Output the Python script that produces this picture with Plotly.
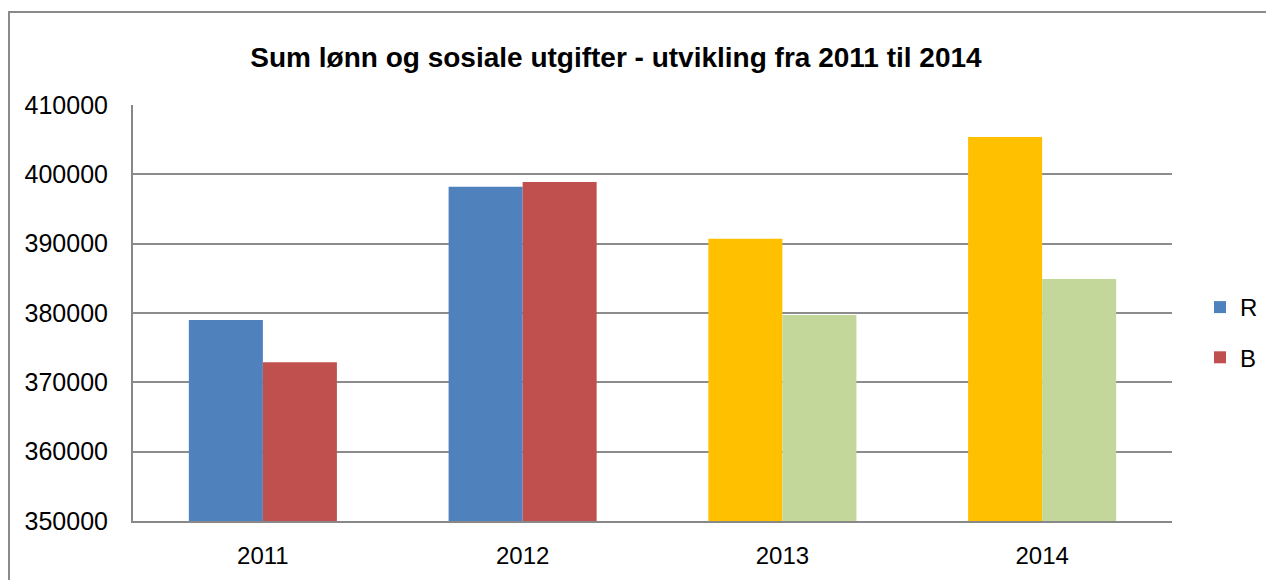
import plotly.graph_objects as go

years = ["2011", "2012", "2013", "2014"]
r_values = [379000, 398200, 390700, 405400]
b_values = [372900, 398900, 379700, 384900]
r_colors = ["#4F81BD", "#4F81BD", "#FFC000", "#FFC000"]
b_colors = ["#C0504D", "#C0504D", "#C4D79B", "#C4D79B"]
y_ticks = [350000, 360000, 370000, 380000, 390000, 400000, 410000]
title_text = "Sum lønn og sosiale utgifter - utvikling fra 2011 til 2014"

W, H = 1266, 580
L, R, T, B = 133, 94, 105, 59
pw, ph = W - L - R, H - T - B

fig = go.Figure()
fig.add_trace(go.Bar(x=years, y=r_values, name="R", legendgroup="r",
                     marker=dict(color=r_colors, line=dict(width=0))))
fig.add_trace(go.Bar(x=years, y=b_values, name="B", legendgroup="b",
                     marker=dict(color=b_colors, line=dict(width=0))))

font = "Liberation Sans, Arial, sans-serif"
fig.update_layout(
    width=W, height=H,
    margin=dict(l=L, r=R, t=T, b=B, autoexpand=False),
    paper_bgcolor="white", plot_bgcolor="white",
    barmode="group", bargap=0.43, bargroupgap=0,
    font=dict(family=font, size=25, color="black"),
    title=dict(text="<b>" + title_text + "</b>", x=616 / W, xanchor="center",
               y=1 - 57 / H, yanchor="middle", font=dict(size=28, family=font)),
    legend=dict(x=(1200 - L) / pw, xanchor="left", y=1 - (285 - T) / ph, yanchor="top",
                font=dict(size=24), tracegroupgap=16, itemwidth=30,
                bgcolor="rgba(0,0,0,0)"),
    xaxis=dict(showline=True, linecolor="#888888", linewidth=2, ticks="",
               tickfont=dict(size=24), ticklabelstandoff=12),
    yaxis=dict(range=[350000, 410000], tickvals=y_ticks, tickformat="d",
               showgrid=True, gridcolor="#8c8c8c", gridwidth=2,
               showline=True, linecolor="#888888", linewidth=2, ticks="",
               tickfont=dict(size=25), ticklabelstandoff=18, zeroline=False),
    shapes=[dict(type="rect", xref="paper", yref="paper",
                 x0=(9 - L) / pw, x1=(1300 - L) / pw,
                 y0=-(700 - (H - B)) / ph, y1=1 + (T - 12) / ph,
                 line=dict(color="#8a8a8a", width=2), layer="below")],
)
fig.write_html("out.html", config={"displayModeBar": False})

with open("out.html", encoding="utf-8") as f:
    html = f.read()
html = html.replace("<head>", "<head><style>html,body{margin:0;padding:0;overflow:hidden;}</style>", 1)
with open("out.html", "w", encoding="utf-8") as f:
    f.write(html)
